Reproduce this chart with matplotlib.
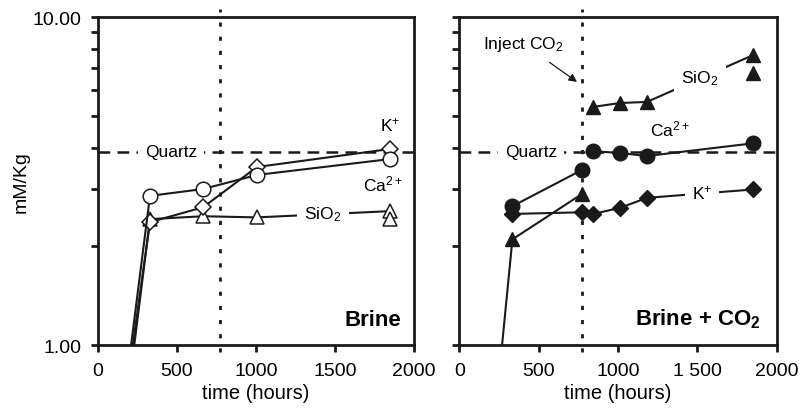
"""
Brine vs Brine + CO2 solute concentrations over time
"""
import numpy as np
import matplotlib
matplotlib.use('Agg')
import matplotlib.pyplot as plt
from matplotlib.ticker import FixedLocator, NullFormatter

plt.rcParams['font.family'] = ['Liberation Sans', 'DejaVu Sans']
plt.rcParams['mathtext.fontset'] = 'custom'
plt.rcParams['mathtext.rm'] = 'Liberation Sans'
plt.rcParams['mathtext.it'] = 'Liberation Sans'
plt.rcParams['mathtext.bf'] = 'Liberation Sans:bold'

# Brine experiment (open symbols)
brine_t = [0, 329, 665, 1006, 1848]
brine_ca = [0.16, 2.85, 2.99, 3.30, 3.69]
brine_k = [0.175, 2.37, 2.63, 3.49, 3.96]
brine_si = [0.13, 2.42, 2.47, 2.45, 2.56]
brine_si_dup_t = [1848]
brine_si_dup = [2.42]

# Brine + CO2 experiment (filled symbols)
co2_t_pre = [335, 774]
co2_t_post = [843, 1013, 1182, 1849]
co2_ca_pre = [2.65, 3.42]
co2_ca_post = [3.90, 3.85, 3.77, 4.12]
co2_k = [2.51, 2.54, 2.51, 2.62, 2.81, 2.98]
co2_si_t_pre = [0, 335, 774]
co2_si_pre = [0.046, 2.10, 2.89]
co2_si_post = [5.32, 5.47, 5.51, 7.65]
co2_si_dup_t = [1849]
co2_si_dup = [6.75]

quartz = 3.88
inject_t = 775

xticks = [0, 500, 1000, 1500, 2000]
xlabels_left = ['0', '500', '1000', '1500', '2000']
xlabels_right = ['0', '500', '1000', '1 500', '2000']

fig = plt.figure(figsize=(8, 4.1), dpi=100)
ax1 = fig.add_axes([0.1225, 0.156, 0.395, 0.8])
ax2 = fig.add_axes([0.574, 0.156, 0.397, 0.8])

lw = 1.5
ms = 10.5
fs_tick = 14
fs_ann = 12.5
k = '#1a1a1a'
white_box = dict(facecolor='white', edgecolor='none', pad=5)


def style_axis(ax, labels, ylabels):
    ax.set_yscale('log')
    ax.set_xlim(0, 2000)
    ax.set_ylim(1, 10)
    ax.xaxis.set_major_locator(FixedLocator(xticks))
    ax.set_xticklabels(labels, fontsize=fs_tick)
    ax.yaxis.set_major_locator(FixedLocator([1, 10]))
    ax.yaxis.set_minor_locator(FixedLocator(np.arange(2, 10)))
    ax.yaxis.set_minor_formatter(NullFormatter())
    if ylabels:
        ax.set_yticklabels(['1.00', '10.00'], fontsize=fs_tick)
    else:
        ax.set_yticklabels([])
    for s in ax.spines.values():
        s.set_linewidth(2)
        s.set_color(k)
    ax.tick_params(which='both', direction='out', length=5, width=2,
                   pad=7, color=k)
    ax.set_xlabel('time (hours)', fontsize=14.5, labelpad=3)
    # quartz saturation and CO2 injection lines
    ax.axhline(quartz, color=k, lw=1.8, ls=(0, (4.7, 2.9)), zorder=1)
    ax.plot([inject_t, inject_t], [0.95, 10.6], color=k, lw=2,
            ls=(0, (1.5, 3.6)), clip_on=False, zorder=1)


style_axis(ax1, xlabels_left, True)
style_axis(ax2, xlabels_right, False)
ax1.set_ylabel('mM/Kg', fontsize=14, labelpad=2)

open_kw = dict(color=k, lw=lw, mfc='white', mec=k, ms=ms, mew=1.1, zorder=3)
# left panel: Brine
ax1.plot(brine_t, brine_si, marker='^', **open_kw)
ax1.plot(brine_si_dup_t, brine_si_dup, marker='^', ls='none', **open_kw)
ax1.plot(brine_t, brine_k, marker='D', **dict(open_kw, ms=ms * 0.78))
ax1.plot(brine_t, brine_ca, marker='o', **open_kw)

ax1.text(462, quartz, 'Quartz', fontsize=fs_ann, ha='center', va='center',
         bbox=white_box, zorder=2)
ax1.text(1848, 4.72, 'K$^{+}$', fontsize=fs_ann, ha='center', va='center')
ax1.text(1800, 3.1, 'Ca$^{2+}$', fontsize=fs_ann, ha='center', va='center')
ax1.text(1424, 2.51, 'SiO$_2$', fontsize=fs_ann, ha='center', va='center',
         bbox=white_box, zorder=4)
ax1.text(0.96, 0.045, 'Brine', transform=ax1.transAxes, fontsize=16,
         fontweight='bold', ha='right', va='bottom')

# right panel: Brine + CO2
fill_kw = dict(color=k, lw=lw, mfc=k, mec=k, ms=ms, zorder=3)
ax2.plot(co2_si_t_pre, co2_si_pre, marker='^', **fill_kw)
ax2.plot(co2_t_post, co2_si_post, marker='^', **fill_kw)
ax2.plot(co2_si_dup_t, co2_si_dup, marker='^', ls='none', **fill_kw)
ax2.plot(co2_t_pre + co2_t_post, co2_k, marker='D', **dict(fill_kw, ms=ms * 0.82))
ax2.plot(co2_t_pre, co2_ca_pre, marker='o', **fill_kw)
ax2.plot(co2_t_post, co2_ca_post, marker='o', **fill_kw)

ax2.text(454, quartz, 'Quartz', fontsize=fs_ann, ha='center', va='center',
         bbox=white_box, zorder=2)
ax2.text(1516, 6.52, 'SiO$_2$', fontsize=fs_ann, ha='center', va='center',
         bbox=white_box, zorder=4)
ax2.text(1327, 4.56, 'Ca$^{2+}$', fontsize=fs_ann, ha='center', va='center')
ax2.text(1528, 2.93, 'K$^{+}$', fontsize=fs_ann, ha='center', va='center',
         bbox=white_box, zorder=4)
ax2.annotate('Inject CO$_2$', xy=(742, 6.34), xytext=(403, 8.3),
             fontsize=fs_ann, ha='center', va='center',
             arrowprops=dict(arrowstyle='-|>', color=k, lw=0.9,
                             mutation_scale=12, shrinkA=8, shrinkB=0))
ax2.text(0.95, 0.045, 'Brine + CO$_\\mathbf{2}$', transform=ax2.transAxes,
         fontsize=16, fontweight='bold', ha='right', va='bottom')

plt.savefig('out.png', dpi=100)
